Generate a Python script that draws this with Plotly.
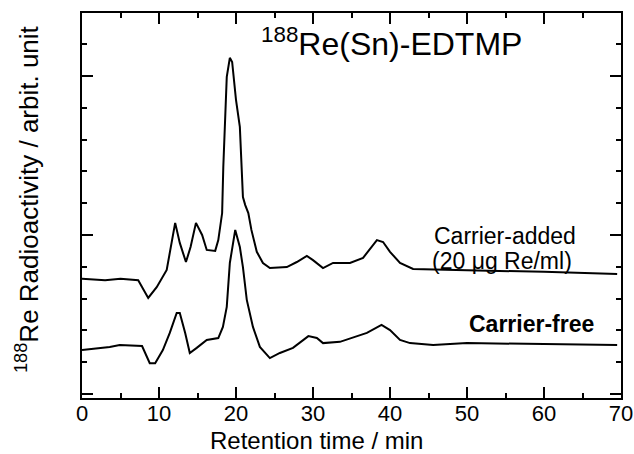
import plotly.graph_objects as go

# Carrier-added (20 ug Re/ml) trace
t_added = [0, 3, 5, 7.3, 8.6, 9.7, 11.0, 11.7, 12.1, 12.7, 13.5, 14.1, 14.8, 15.6, 16.2,
           17.3, 17.7, 18.2, 18.35, 18.8, 19.2, 19.5, 20.0, 20.5, 20.9, 21.2, 21.6, 22.0,
           22.7, 23.5, 24.4, 26.6, 27.9, 29.2, 30.0, 31.3, 32.6, 34.8, 36.5, 38.3, 39.1,
           40.0, 41.3, 43.0, 50, 60, 69.5]
y_added = [3.62, 3.58, 3.62, 3.58, 3.02, 3.36, 3.90, 4.84, 5.38, 4.75, 4.15, 4.62, 5.38, 5.00, 4.53,
           4.50, 4.84, 5.69, 7.14, 9.97, 10.57, 10.44, 9.25, 8.40, 6.19, 5.94, 5.69, 5.16,
           4.47, 4.12, 3.96, 3.99, 4.15, 4.34, 4.21, 3.96, 4.12, 4.12, 4.28, 4.84, 4.78,
           4.47, 4.12, 3.93, 3.90, 3.84, 3.77]

# Carrier-free trace
t_free = [0, 3.6, 4.9, 7.8, 8.8, 9.5, 10.5, 11.4, 12.3, 12.7, 13.4, 14.0, 14.9, 16.2, 17.7,
          18.3, 18.8, 19.2, 19.9, 20.5, 20.9, 21.4, 22.2, 23.1, 24.4, 25.7, 27.4, 29.4,
          30.5, 31.3, 33.5, 37.0, 38.9, 40.0, 41.3, 42.6, 45.6, 50, 60, 69.5]
y_free = [1.38, 1.48, 1.54, 1.51, 0.97, 0.97, 1.38, 1.92, 2.55, 2.55, 1.92, 1.29, 1.45, 1.70, 1.76,
          2.11, 2.74, 4.12, 5.16, 4.62, 3.99, 2.96, 2.11, 1.48, 1.13, 1.29, 1.45, 1.82,
          1.76, 1.60, 1.64, 1.92, 2.17, 2.01, 1.70, 1.60, 1.54, 1.60, 1.57, 1.54]

x_ticks = [0, 10, 20, 30, 40, 50, 60, 70]

FONT = "Liberation Sans, Arial, sans-serif"

fig = go.Figure()
fig.add_trace(go.Scatter(x=t_added, y=y_added, mode="lines",
                         line=dict(color="black", width=2), showlegend=False))
fig.add_trace(go.Scatter(x=t_free, y=y_free, mode="lines",
                         line=dict(color="black", width=2), showlegend=False))

fig.update_layout(
    width=634, height=454,
    margin=dict(l=82, r=13, t=13, b=56, autoexpand=False),
    plot_bgcolor="white", paper_bgcolor="white",
    font=dict(family=FONT, color="black"),
    xaxis=dict(range=[0, 70], tickvals=x_ticks, ticktext=[str(v) for v in x_ticks],
               automargin=False, ticklabelstandoff=-5,
               ticks="inside", ticklen=11, tickwidth=1.5, tickcolor="black",
               minor=dict(dtick=5, ticks="inside", ticklen=5, tickwidth=1.5, tickcolor="black"),
               showline=True, linewidth=2, linecolor="black", mirror="ticks",
               showgrid=False, zeroline=False,
               tickfont=dict(size=22, family=FONT)),
    yaxis=dict(range=[-0.126, 11.98], tick0=0, dtick=5, automargin=False,
               ticks="inside", ticklen=11, tickwidth=1.5, tickcolor="black",
               minor=dict(dtick=1, ticks="inside", ticklen=5, tickwidth=1.5, tickcolor="black"),
               showticklabels=False,
               showline=True, linewidth=2, linecolor="black", mirror="ticks",
               showgrid=False, zeroline=False),
)

def px_x(p):
    return (p - 82) / 539

def px_y(p):
    return (398 - p) / 385

def label(text, cx, cy, size, angle=0):
    fig.add_annotation(text=text, xref="paper", yref="paper",
                       x=px_x(cx), y=px_y(cy), xanchor="center", yanchor="middle",
                       textangle=angle, showarrow=False,
                       font=dict(size=size, family=FONT))

label("Retention time / min", 316, 440, 24)
label("<sup>188</sup>Re Radioactivity / arbit. unit", 27, 199, 26, angle=-90)
label("<sup>188</sup>Re(Sn)-EDTMP", 391, 42, 32)
label("Carrier-added", 505, 236, 23)
label("(20 \u03bcg Re/ml)", 502, 261, 23)
label("<b>Carrier-free</b>", 531, 324, 23)

fig.write_html("out.html")
